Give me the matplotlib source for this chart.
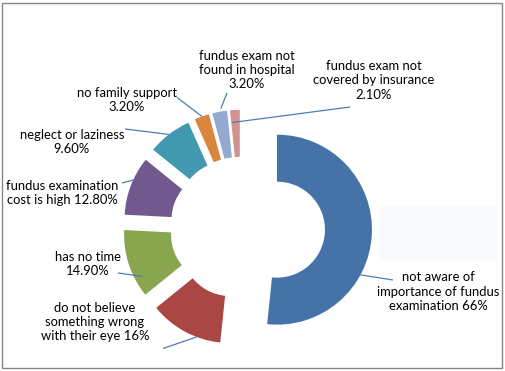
import numpy as np
import matplotlib
matplotlib.use("Agg")
import matplotlib.pyplot as plt
from matplotlib.patches import Rectangle

# ---- data ----
categories = [
    "not aware of\nimportance of fundus\nexamination 66%",
    "do not believe\nsomething wrong\nwith their eye 16%",
    "has no time\n14.90%",
    "fundus examination\ncost is high 12.80%",
    "neglect or laziness\n9.60%",
    "no family support\n3.20%",
    "fundus exam not\nfound in hospital\n3.20%",
    "fundus exam not\ncovered by insurance\n2.10%",
]
values = [66, 16, 14.9, 12.8, 9.6, 3.2, 3.2, 2.1]

# ---- style ----
colors = ["#4572A7", "#AA4643", "#89A54E", "#71588F",
          "#4198AF", "#DB843D", "#93A9CF", "#D19392"]
explode = [36, 23, 23, 23, 23, 23, 23, 23]   # offsets in pixels

W, H = 506, 371
fig = plt.figure(figsize=(W / 100, H / 100), dpi=100)
ax = fig.add_axes([0, 0, 1, 1])
ax.set_axis_off()

def P(x, y):
    """pixel (top-left origin) -> data coords"""
    return (x, H - y)

R = 95
wedges, _ = ax.pie(values, colors=colors, explode=explode, startangle=90,
                   counterclock=False, radius=R, center=P(241, 227.8),
                   wedgeprops=dict(width=47, linewidth=0), frame=False)
ax.set_xlim(0, W)
ax.set_ylim(0, H)
ax.set_aspect("equal")

# faint background box at right
ax.add_patch(Rectangle(P(380, 260), 117, 53, facecolor="#F9FAFD",
                       edgecolor="none", zorder=0))

# label layout: text center, leader start, anchor (fraction along wedge, radius frac)
text_pos = [(438, 291.5), (95, 322), (88, 264), (62, 193), (72, 142),
            (127, 100), (247, 70), (374, 80.5)]
line_start = [(393, 280), (163, 348.5), (118, 273), (122, 183), (125, 129),
              (177, 97.5), (227, 93), (350, 107)]
anchor_t = [0.363, 0.674, 0.745, 0.40, 0.51, 0.48, 0.39, 0.95]
anchor_r = [1.0, 1.0, 0.92, 1.0, 1.0, 1.0, 1.03, 0.87]

font = ["Lato", "DejaVu Sans"]
for w, lab, tp, ls, t, rf in zip(wedges, categories, text_pos, line_start,
                                 anchor_t, anchor_r):
    ang = np.deg2rad(w.theta1 + t * (w.theta2 - w.theta1))
    cx, cy = w.center
    ex = cx + rf * w.r * np.cos(ang)
    ey = cy + rf * w.r * np.sin(ang)
    sx, sy = P(*ls)
    ax.plot([sx, ex], [sy, ey], color="#4A7EBB", lw=0.9, zorder=3,
            solid_capstyle="butt")
    ax.text(*P(*tp), lab, ha="center", va="center", fontsize=9.4,
            family=font, color="#000000", linespacing=1.22, zorder=4)

# chart border
fig.patches.append(Rectangle((2.5 / W, 1 - 367.5 / H), 499.5 / W, 364.5 / H,
                             transform=fig.transFigure, facecolor="none",
                             edgecolor="#868686", lw=1.0))

fig.savefig("out.png", dpi=100, facecolor="white")
